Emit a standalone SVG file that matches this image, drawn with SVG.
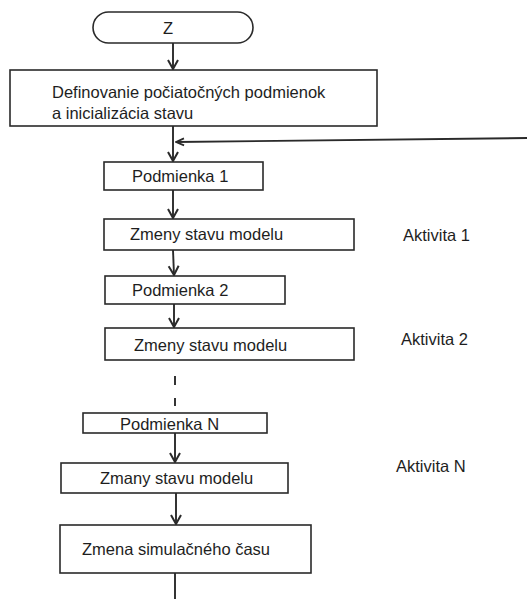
<svg xmlns="http://www.w3.org/2000/svg" width="527" height="599" viewBox="0 0 527 599">
  <style>
    .box { fill: #ffffff; stroke: #2a2a2a; stroke-width: 1.6; }
    .lbl { font-family: "Liberation Sans", Arial, sans-serif; font-size: 16.5px; fill: #1e1e1e; }
    .conn { stroke: #2a2a2a; stroke-width: 1.9; fill: none; }
  </style>
  <defs>
    <!-- open V arrowhead for the downward flow -->
    <marker id="arr" markerWidth="14" markerHeight="14" refX="12" refY="7" orient="auto" markerUnits="userSpaceOnUse" viewBox="0 0 14 14">
      <path d="M3,2 L12,7 L3,12" fill="none" stroke="#2a2a2a" stroke-width="2"/>
    </marker>
    <!-- smaller arrowhead for the return line -->
    <marker id="arrL" markerWidth="12" markerHeight="12" refX="11" refY="6" orient="auto" markerUnits="userSpaceOnUse" viewBox="0 0 12 12">
      <path d="M3,2.5 L11,6 L3,9.5" fill="none" stroke="#2a2a2a" stroke-width="1.8"/>
    </marker>
  </defs>
  <rect width="527" height="599" fill="#ffffff"/>

  <g id="connectors">
    <line class="conn" x1="173" y1="43" x2="173" y2="69" marker-end="url(#arr)"/>
    <line class="conn" x1="173" y1="126" x2="173" y2="161" marker-end="url(#arr)"/>
    <line class="conn" x1="527" y1="138" x2="176" y2="142" stroke-width="1.5" marker-end="url(#arrL)"/>
    <line class="conn" x1="173" y1="190" x2="173" y2="218" marker-end="url(#arr)"/>
    <line class="conn" x1="173" y1="250" x2="174" y2="275" marker-end="url(#arr)"/>
    <line class="conn" x1="174" y1="304" x2="174" y2="327" marker-end="url(#arr)"/>
    <line class="conn" x1="175" y1="376" x2="175" y2="385"/>
    <line class="conn" x1="175" y1="398" x2="175" y2="406"/>
    <line class="conn" x1="175" y1="433" x2="175" y2="462" marker-end="url(#arr)"/>
    <line class="conn" x1="176" y1="493" x2="176" y2="524" stroke-width="2.6" marker-end="url(#arr)"/>
    <line class="conn" x1="175" y1="573" x2="175" y2="599"/>
  </g>

  <g id="start">
    <rect class="box" x="93" y="12" width="160" height="31" rx="15.5" ry="15.5"/>
    <text class="lbl" x="168" y="34" text-anchor="middle">Z</text>
  </g>

  <g id="init">
    <rect class="box" x="10" y="70" width="367" height="56"/>
    <text class="lbl" x="52" y="98">Definovanie počiatočných podmienok</text>
    <text class="lbl" x="52" y="119">a inicializácia stavu</text>
  </g>

  <g id="cond1">
    <rect class="box" x="104" y="162" width="159" height="28"/>
    <text class="lbl" x="132" y="182">Podmienka 1</text>
  </g>

  <g id="act1">
    <rect class="box" x="104" y="219" width="250" height="31"/>
    <text class="lbl" x="130" y="240">Zmeny stavu modelu</text>
    <text class="lbl" x="403" y="241">Aktivita 1</text>
  </g>

  <g id="cond2">
    <rect class="box" x="105" y="276" width="180" height="28"/>
    <text class="lbl" x="132" y="296">Podmienka 2</text>
  </g>

  <g id="act2">
    <rect class="box" x="105" y="328" width="249" height="32"/>
    <text class="lbl" x="134" y="351">Zmeny stavu modelu</text>
    <text class="lbl" x="401" y="345">Aktivita 2</text>
  </g>

  <g id="condN">
    <rect class="box" x="83" y="413" width="184" height="20"/>
    <text class="lbl" x="120" y="430">Podmienka N</text>
  </g>

  <g id="actN">
    <rect class="box" x="61" y="463" width="227" height="30"/>
    <text class="lbl" x="100" y="484">Zmany stavu modelu</text>
    <text class="lbl" x="396" y="472">Aktivita N</text>
  </g>

  <g id="time">
    <rect class="box" x="60" y="525" width="251" height="48"/>
    <text class="lbl" x="82" y="555">Zmena simulačného času</text>
  </g>
</svg>
